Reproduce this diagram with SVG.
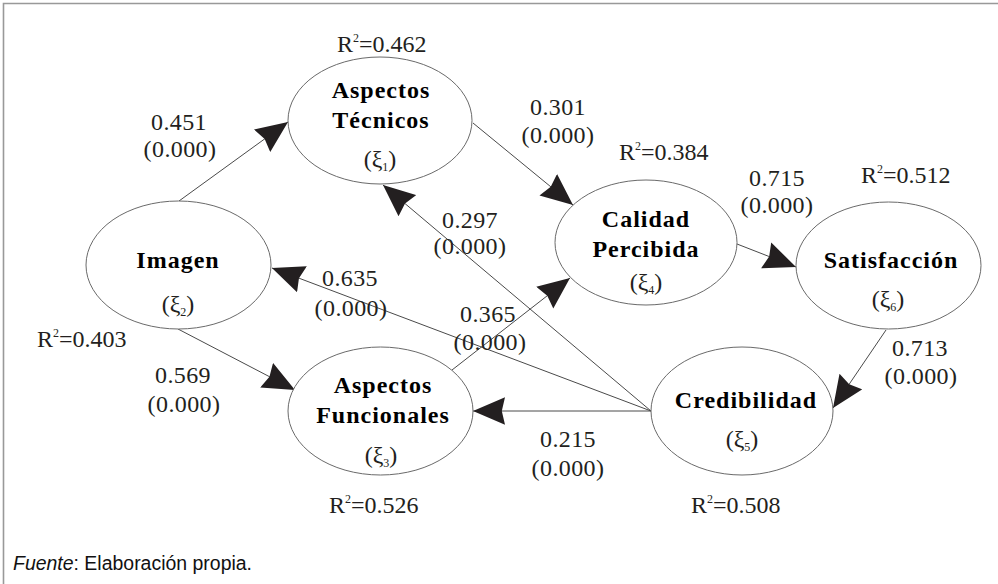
<svg xmlns="http://www.w3.org/2000/svg" width="998" height="584" viewBox="0 0 998 584">
<defs>
<marker id="ah" markerUnits="userSpaceOnUse" markerWidth="32" markerHeight="28" viewBox="0 0 30 26" refX="30" refY="13" orient="auto">
<path d="M0,0 L30,13 L0,26 L3,13 z" fill="#231f20"/>
</marker>
<style>
.frame{stroke:#999;stroke-width:1.6;fill:none}
.node ellipse{fill:#fff;stroke:#6a6a6a;stroke-width:1}
.lbl{font-family:'Liberation Serif',Tinos,'Times New Roman','DejaVu Serif',serif;font-weight:bold;font-size:24px;letter-spacing:1px;fill:#000;text-anchor:middle}
.xi{font-family:'Liberation Serif',Tinos,'Times New Roman','DejaVu Serif',serif;font-size:24px;fill:#231f20;text-anchor:middle}
.sub{font-size:12px}
.num{font-family:'Liberation Serif',Tinos,'Times New Roman','DejaVu Serif',serif;font-size:24px;fill:#231f20;text-anchor:middle;letter-spacing:0.4px}
.r2{font-family:'Liberation Serif',Tinos,'Times New Roman','DejaVu Serif',serif;font-size:24px;fill:#231f20}
.conn line{stroke:#4a4a4a;stroke-width:1;marker-end:url(#ah)}
.src{font-family:'Liberation Sans',Arial,sans-serif;font-size:20px;fill:#111}
</style>
</defs>
<rect width="998" height="584" fill="#fff"/>
<path class="frame" d="M3.5,584 V3.5 H998"/>

<g id="connectors" class="conn">
<line x1="179" y1="201" x2="288" y2="122"/>
<line x1="473" y1="123" x2="573" y2="205"/>
<line x1="737" y1="244" x2="796" y2="267"/>
<line x1="886" y1="330" x2="833" y2="408"/>
<line x1="178" y1="329" x2="295" y2="390"/>
<line x1="452" y1="370" x2="570" y2="278"/>
<line x1="651" y1="411" x2="473" y2="411"/>
<line x1="651" y1="411" x2="272" y2="268"/>
<line x1="651" y1="411" x2="383" y2="185"/>
</g>

<g id="node-tecnicos" class="node">
<ellipse cx="380" cy="120.5" rx="92" ry="63.5"/>
<text class="lbl" x="381" y="98">Aspectos</text>
<text class="lbl" x="381" y="128">Técnicos</text>
<text class="xi" x="380" y="167">(ξ<tspan class="sub" dy="4">1</tspan><tspan dy="-4">)</tspan></text>
</g>

<g id="node-imagen" class="node">
<ellipse cx="178.5" cy="265" rx="92.5" ry="64"/>
<text class="lbl" x="178" y="268">Imagen</text>
<text class="xi" x="178" y="312">(ξ<tspan class="sub" dy="4">2</tspan><tspan dy="-4">)</tspan></text>
</g>

<g id="node-calidad" class="node">
<ellipse cx="646" cy="242.5" rx="91" ry="62.5"/>
<text class="lbl" x="646" y="227">Calidad</text>
<text class="lbl" x="646" y="257">Percibida</text>
<text class="xi" x="646" y="290">(ξ<tspan class="sub" dy="4">4</tspan><tspan dy="-4">)</tspan></text>
</g>

<g id="node-satisfaccion" class="node">
<ellipse cx="888.5" cy="265.5" rx="92.5" ry="63.5"/>
<text class="lbl" x="891" y="268">Satisfacción</text>
<text class="xi" x="888" y="307">(ξ<tspan class="sub" dy="4">6</tspan><tspan dy="-4">)</tspan></text>
</g>

<g id="node-funcionales" class="node">
<ellipse cx="380.5" cy="411" rx="92.5" ry="64"/>
<text class="lbl" x="383" y="393">Aspectos</text>
<text class="lbl" x="383" y="423">Funcionales</text>
<text class="xi" x="381" y="463">(ξ<tspan class="sub" dy="4">3</tspan><tspan dy="-4">)</tspan></text>
</g>

<g id="node-credibilidad" class="node">
<ellipse cx="742" cy="411" rx="91" ry="64"/>
<text class="lbl" x="746" y="408">Credibilidad</text>
<text class="xi" x="742" y="447">(ξ<tspan class="sub" dy="4">5</tspan><tspan dy="-4">)</tspan></text>
</g>

<g id="r2-labels">
<text class="r2" x="337" y="52">R<tspan class="sub" dy="-10">2</tspan><tspan dy="10">=0.462</tspan></text>
<text class="r2" x="619" y="160">R<tspan class="sub" dy="-10">2</tspan><tspan dy="10">=0.384</tspan></text>
<text class="r2" x="861" y="183">R<tspan class="sub" dy="-10">2</tspan><tspan dy="10">=0.512</tspan></text>
<text class="r2" x="37" y="347">R<tspan class="sub" dy="-10">2</tspan><tspan dy="10">=0.403</tspan></text>
<text class="r2" x="329" y="513">R<tspan class="sub" dy="-10">2</tspan><tspan dy="10">=0.526</tspan></text>
<text class="r2" x="691" y="513">R<tspan class="sub" dy="-10">2</tspan><tspan dy="10">=0.508</tspan></text>
</g>

<g id="coef-labels">
<text class="num" x="179" y="130">0.451</text>
<text class="num" x="180" y="157">(0.000)</text>
<text class="num" x="558" y="115">0.301</text>
<text class="num" x="558" y="143">(0.000)</text>
<text class="num" x="777" y="186">0.715</text>
<text class="num" x="777" y="213">(0.000)</text>
<text class="num" x="470" y="228">0.297</text>
<text class="num" x="470" y="254">(0.000)</text>
<text class="num" x="350" y="286">0.635</text>
<text class="num" x="351" y="316">(0.000)</text>
<text class="num" x="488" y="322">0.365</text>
<text class="num" x="490" y="350">(0.000)</text>
<text class="num" x="183" y="383">0.569</text>
<text class="num" x="184" y="412">(0.000)</text>
<text class="num" x="920" y="356">0.713</text>
<text class="num" x="921" y="384">(0.000)</text>
<text class="num" x="568" y="447">0.215</text>
<text class="num" x="568" y="476">(0.000)</text>
</g>

<text class="src" x="13" y="570" textLength="239" lengthAdjust="spacingAndGlyphs"><tspan font-style="italic">Fuente</tspan>: Elaboración propia.</text>
</svg>
